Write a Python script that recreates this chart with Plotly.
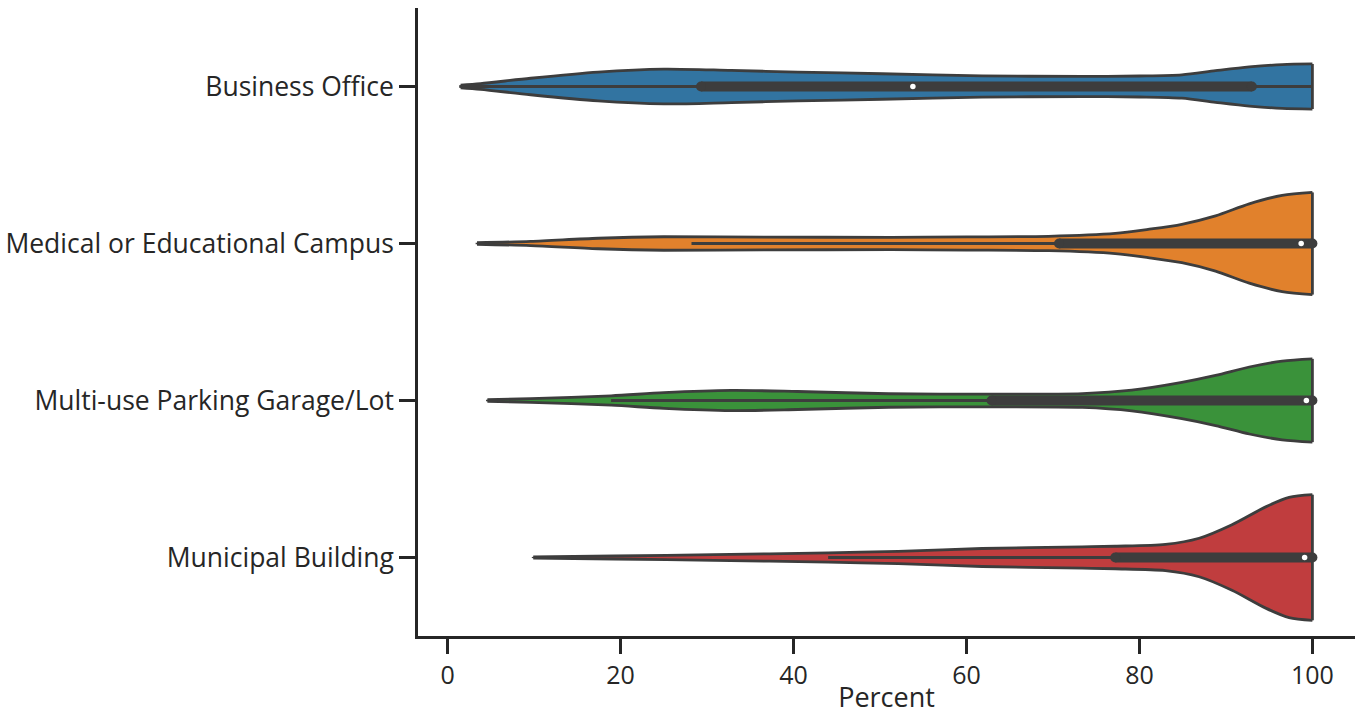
import plotly.graph_objects as go

# Categories (top to bottom)
categories = ["Business Office", "Medical or Educational Campus",
              "Multi-use Parking Garage/Lot", "Municipal Building"]
colors = ["#3274a1", "#e1812c", "#3a923a", "#c03d3e"]

# Kernel density estimates per category (percent grid, density)
bo_x = [1.5, 3.8, 9.6, 17.4, 25.0, 32.8, 40.5, 50.2, 61.8, 73.4, 80.0, 84.9, 88.8, 92.7, 96.5, 100.0]
bo_d = [0.0009, 0.0019, 0.0055, 0.0096, 0.0116, 0.0107, 0.0096, 0.0085, 0.0071, 0.0067, 0.0070, 0.0078, 0.0105, 0.0130, 0.0146, 0.0150]

me_x = [3.4, 9.6, 17.4, 25.0, 36.6, 51.3, 60.0, 69.5, 77.2, 81.0, 84.9, 88.8, 92.7, 96.5, 100.0]
me_d = [0.0005, 0.0014, 0.0035, 0.0045, 0.0043, 0.0041, 0.0044, 0.0048, 0.0067, 0.0094, 0.0128, 0.0184, 0.0264, 0.0320, 0.0340]

mu_x = [4.6, 9.6, 18.9, 25.0, 32.8, 40.5, 51.0, 62.9, 73.4, 79.1, 84.9, 88.8, 92.7, 96.5, 100.0]
mu_d = [0.0005, 0.0012, 0.0031, 0.0052, 0.0067, 0.0060, 0.0045, 0.0042, 0.0046, 0.0069, 0.0121, 0.0167, 0.0223, 0.0262, 0.0277]

mb_x = [9.9, 19.3, 30.8, 44.0, 52.1, 61.8, 73.4, 77.2, 83.0, 86.9, 90.7, 94.6, 97.3, 100.0]
mb_d = [0.0004, 0.0010, 0.0019, 0.0031, 0.0041, 0.0060, 0.0071, 0.0075, 0.0087, 0.0128, 0.0218, 0.0337, 0.0400, 0.0418]

# Box summary: whisker low, Q1, median, Q3, whisker high
whisker_lo = [1.5, 28.2, 18.9, 44.0]
q1 = [29.3, 70.7, 62.9, 77.2]
median = [53.8, 98.7, 99.3, 99.1]
q3 = [93.0, 100.0, 100.0, 100.0]
whisker_hi = [100.0, 100.0, 100.0, 100.0]

xs = [bo_x, me_x, mu_x, mb_x]
ds = [bo_d, me_d, mu_d, mb_d]

GRAY = "#3d3d3d"
HALF_WIDTH = 0.4  # half of violin width in category units (area scaling)
dmax = max(max(d) for d in ds)

fig = go.Figure()
for i, (gx, gd, col) in enumerate(zip(xs, ds, colors)):
    hw = [v / dmax * HALF_WIDTH for v in gd]
    upper = [i - h for h in hw]
    lower = [i + h for h in hw]
    fig.add_trace(go.Scatter(x=gx, y=upper, mode="lines",
                             line=dict(color=GRAY, width=2.8, shape="spline", smoothing=0.8),
                             hoverinfo="skip", showlegend=False))
    fig.add_trace(go.Scatter(x=gx, y=lower, mode="lines", fill="tonexty", fillcolor=col,
                             line=dict(color=GRAY, width=2.8, shape="spline", smoothing=0.8),
                             hoverinfo="skip", showlegend=False))
    # truncated ends of the density
    fig.add_trace(go.Scatter(x=[gx[0], gx[0], None, gx[-1], gx[-1]],
                             y=[upper[0], lower[0], None, upper[-1], lower[-1]],
                             mode="lines", line=dict(color=GRAY, width=2.8),
                             hoverinfo="skip", showlegend=False))
    # whiskers
    fig.add_trace(go.Scatter(x=[whisker_lo[i], whisker_hi[i]], y=[i, i], mode="lines",
                             line=dict(color=GRAY, width=2.8),
                             hoverinfo="skip", showlegend=False))
    # interquartile box
    fig.add_trace(go.Scatter(x=[q1[i], q3[i]], y=[i, i], mode="lines+markers",
                             line=dict(color=GRAY, width=10),
                             marker=dict(color=GRAY, size=10),
                             hoverinfo="skip", showlegend=False))
    # median
    fig.add_trace(go.Scatter(x=[median[i]], y=[i], mode="markers",
                             marker=dict(color="white", size=5.5),
                             hoverinfo="skip", showlegend=False))

AXIS_COLOR = "#262626"
fig.update_layout(
    width=1362, height=715,
    margin=dict(l=418, r=7, t=8, b=79),
    paper_bgcolor="white", plot_bgcolor="white",
    font=dict(family="Open Sans", color="#262626"),
    showlegend=False,
)
fig.update_xaxes(
    range=[-3.425, 104.925], tickvals=[0, 20, 40, 60, 80, 100],
    showline=True, linecolor=AXIS_COLOR, linewidth=2.5,
    ticks="outside", ticklen=15, tickwidth=2.5, tickcolor=AXIS_COLOR,
    tickfont=dict(size=25), showgrid=False, zeroline=False, automargin=False,
    title=dict(text="Percent", font=dict(size=27)),
)
fig.update_yaxes(
    range=[3.5, -0.5], tickvals=[0, 1, 2, 3], ticktext=categories,
    showline=True, linecolor=AXIS_COLOR, linewidth=2.5,
    ticks="outside", ticklen=16, tickwidth=2.5, tickcolor=AXIS_COLOR,
    tickfont=dict(size=26.5), showgrid=False, zeroline=False, automargin=False,
)

fig.write_html("out.html")
